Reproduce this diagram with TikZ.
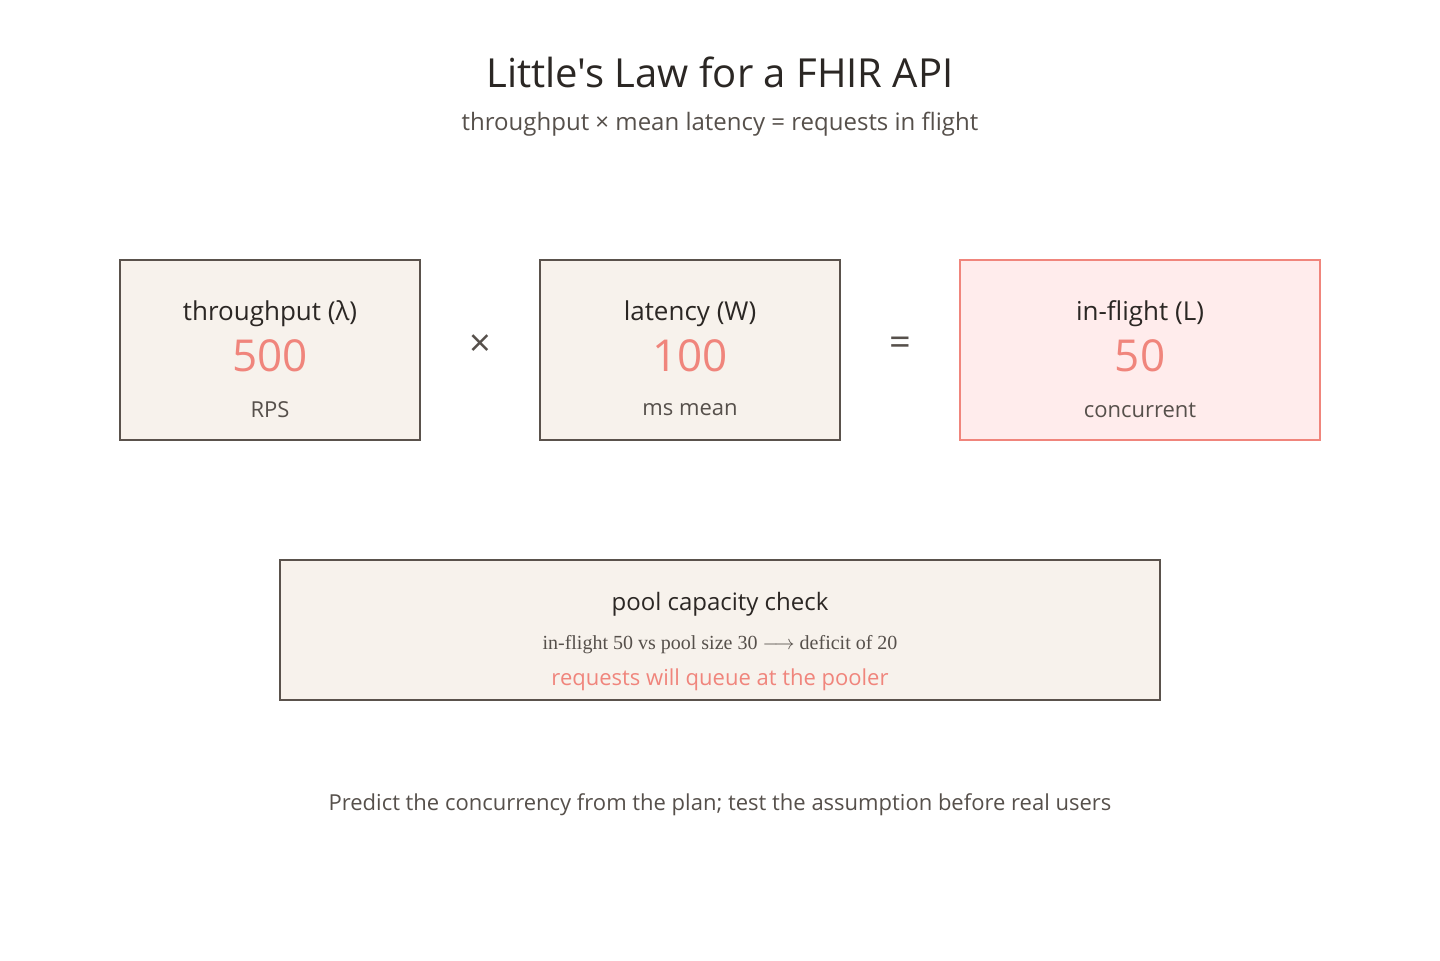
\documentclass[tikz,border=0pt]{standalone}
\usepackage{fontspec}
\setmainfont{Open Sans}
\newfontfamily\titlefont{Open Sans}
\newfontfamily\serifline{Liberation Serif}
\usetikzlibrary{positioning}
\definecolor{ink}{HTML}{2B2724}
\definecolor{mute}{HTML}{56504B}
\definecolor{edge}{HTML}{5A524C}
\definecolor{paper}{HTML}{F7F2EC}
\definecolor{salmon}{HTML}{F0857C}
\definecolor{blush}{HTML}{FFECEC}
\tikzset{
  x=0.5pt, y=-0.5pt,
  box/.style={draw=edge, fill=paper, line width=1.4pt, minimum width=150pt, minimum height=90pt},
  hotbox/.style={box, draw=salmon, fill=blush},
  label/.style={text=ink, font=\fontsize{13}{15}\selectfont},
  value/.style={text=salmon, font=\fontsize{22}{26}\selectfont},
  unit/.style={text=mute, font=\fontsize{11}{13}\selectfont},
  op/.style={text=mute, font=\fontsize{19}{21}\selectfont}
}
\begin{document}
\begin{tikzpicture}
  \fill[white!99!paper] (0,0) rectangle (1440,960);
  \node[text=ink, font=\titlefont\fontsize{20}{24}\selectfont] (title) at (720,72) {Little's Law for a FHIR API};
  \node[text=mute, font=\fontsize{12}{14}\selectfont] (subtitle) at (720,124) {throughput × mean latency = requests in flight};

  % the three factors
  \node[box] (lambda) at (270,350) {};
  \node[label] (lambdaname) at (270,314) {throughput (λ)};
  \node[value] (lambdaval) at (270,356) {500};
  \node[unit] (lambdaunit) at (270,410) {RPS};

  \node[op] (times) at (480,346) {×};

  \node[box] (wait) at (690,350) {};
  \node[label] (waitname) at (690,314) {latency (W)};
  \node[value] (waitval) at (690,356) {100};
  \node[unit] (waitunit) at (690,410) {ms mean};

  \node[op] (equals) at (900,346) {=};

  \node[hotbox, minimum width=180pt] (load) at (1140,350) {};
  \node[label] (loadname) at (1140,314) {in-flight (L)};
  \node[value] (loadval) at (1140,356) {50};
  \node[unit] (loadunit) at (1140,410) {concurrent};

  % pool check
  \node[box, minimum width=440pt, minimum height=70pt] (pool) at (720,630) {};
  \node[text=ink, font=\fontsize{12}{14}\selectfont] (poolname) at (720,604) {pool capacity check};
  \node[text=mute, font=\serifline\fontsize{10}{12}\selectfont] (poolmath) at (720,645) {in-flight 50 vs pool size 30 $\longrightarrow$ deficit of 20};
  \node[text=salmon, font=\fontsize{11}{13}\selectfont] (poolnote) at (720,680) {requests will queue at the pooler};

  \node[text=mute, font=\fontsize{11}{13}\selectfont] (footer) at (720,805) {Predict the concurrency from the plan; test the assumption before real users};
\end{tikzpicture}
\end{document}
